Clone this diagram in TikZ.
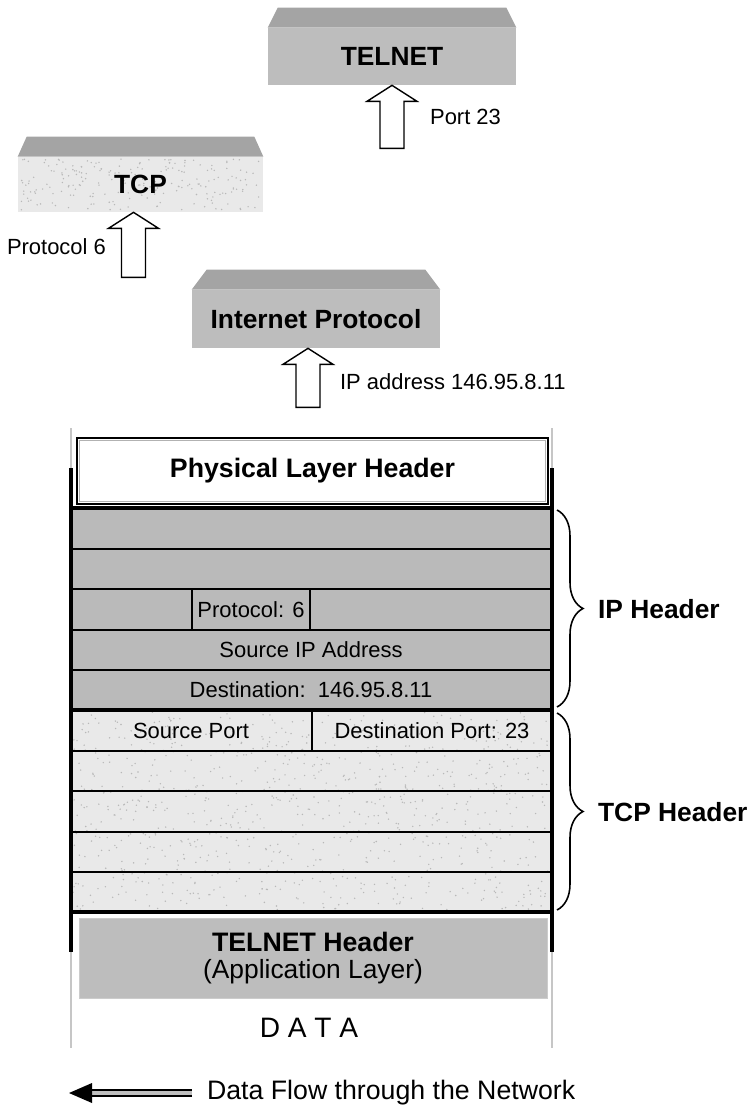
\documentclass[tikz,border=0pt]{standalone}
\usepackage{fontspec}
\setmainfont{Liberation Sans}
\usetikzlibrary{calc,decorations.pathreplacing}

\definecolor{slabgray}{HTML}{BDBDBD}
\definecolor{bevelgray}{HTML}{A4A4A4}
\definecolor{rowgray}{HTML}{BABABA}
\definecolor{speckbg}{HTML}{E9E9E9}
\definecolor{speckdot}{HTML}{B8B8B8}

% hollow block arrow pointing up: tip, shaft length
\newcommand\hollowup[2]{\draw[hollow] #1 -- ++(25,16) -- ++(-13,0) -- ++(0,#2) -- ++(-24,0) -- ++(0,-#2) -- ++(-13,0) -- cycle;}

\begin{document}
\begin{tikzpicture}[
  x=0.02cm, y=-0.02cm,
  boldlbl/.style={font=\fontsize{15}{17}\selectfont\bfseries, inner sep=1pt},
  plainlbl/.style={font=\fontsize{12.5}{15}\selectfont, inner sep=1pt},
  slab/.style={fill=slabgray, minimum width=4.96cm, minimum height=1.14cm, inner sep=0pt, font=\fontsize{15}{17}\selectfont\bfseries},
  bevel/.style={fill=bevelgray},
  hollow/.style={draw=black, fill=white, line width=0.8pt, line join=miter},
  physbox/.style={draw, line width=1.6pt, fill=white, minimum width=9.42cm, minimum height=1.32cm, font=\fontsize{15.2}{17}\selectfont\bfseries},
  apphdr/.style={fill=slabgray, draw=gray!40, minimum width=9.36cm, minimum height=1.6cm, align=center, font=\fontsize{15}{15.5}\selectfont},
  sideline/.style={line width=2.2pt},
  guide/.style={draw=gray!45, line width=0.6pt},
  rowline/.style={line width=0.9pt},
  splitline/.style={line width=1.8pt},
  hbrace/.style={decorate, decoration={brace, amplitude=0.52cm}, line width=0.9pt}
]
\useasboundingbox (0,0) rectangle (751,1111);

% protocol slabs
\node[slab] (telnet) at (392,56.5) {TELNET};
\fill[bevel] (telnet.north west) -- ++(10,-20) -- ($(telnet.north east)+(-10,-20)$) -- (telnet.north east) -- cycle;

\node[slab, fill=speckbg, minimum width=4.9cm, minimum height=1.1cm] (tcp) at (140.5,184.5) {};
\pgfmathsetseed{11}
\foreach \i in {1,...,220}
  \fill[speckdot] ({20+241*rnd},{159+51*rnd}) circle[radius=0.45pt];
\fill[bevel] (tcp.north west) -- ++(9,-20) -- ($(tcp.north east)+(-9,-20)$) -- (tcp.north east) -- cycle;
\node[boldlbl] (tcplbl) at (tcp.center) {TCP};

\node[slab, minimum height=1.16cm] (ip) at (316,319) {Internet Protocol};
\fill[bevel] (ip.north west) -- ++(15,-20) -- ($(ip.north east)+(-15,-20)$) -- (ip.north east) -- cycle;

% hollow arrows
\hollowup{(telnet.south)}{47}
\node[plainlbl, anchor=west] (portlbl) at (428,117) {Port 23};
\hollowup{($(tcp.south)+(-7,0)$)}{49}
\node[plainlbl, anchor=east] (protolbl) at (108,247) {Protocol 6};
\hollowup{($(ip.south)+(-8,0)$)}{43}
\node[plainlbl, anchor=west] (iplbl) at (338,382) {IP address 146.95.8.11};

% packet stack
\fill[rowgray] (71,508) rectangle (552,710);
\fill[speckbg] (71,710) rectangle (552,912);
\foreach \i in {1,...,900}
  \fill[speckdot] ({73+477*rnd},{712+198*rnd}) circle[radius=0.45pt];
\foreach \y in {549,589,630,670,751,791,832,872}
  \draw[rowline] (71,\y) -- (552,\y);
\foreach \y in {508,710,912}
  \draw[splitline] (71,\y) -- (552,\y);
\draw[rowline] (192,589) -- (192,630);
\draw[rowline] (310,589) -- (310,630);
\draw[rowline] (312,710) -- (312,751);

\draw[guide] (71,428) -- (71,468);
\draw[guide] (552,428) -- (552,468);
\draw[guide] (71,952) -- (71,1048);
\draw[guide] (552,952) -- (552,1048);
\draw[sideline] (71,468) -- (71,952);
\draw[sideline] (552,468) -- (552,952);

\node[physbox] (phys) at (312.5,471) {Physical Layer Header};
\draw[gray!60, line width=0.5pt] ($(phys.north west)+(4,4)$) rectangle ($(phys.south east)+(-4,-4)$);

\node[plainlbl] (protofield) at (251,610) {Protocol: 6};
\node[plainlbl] (srcip) at (311,650) {Source IP Address};
\node[plainlbl] (dstip) at (311,690) {Destination:\ \ 146.95.8.11};
\node[plainlbl] (srcport) at (191,731) {Source Port};
\node[plainlbl] (dstport) at (432,731) {Destination Port: 23};

% braces
\draw[hbrace] (557,510) -- (557,707);
\node[boldlbl, anchor=west] (iphdr) at (596,609) {IP Header};
\draw[hbrace] (557,713) -- (557,910);
\node[boldlbl, anchor=west] (tcphdr) at (596,812) {TCP Header};

\node[apphdr] (app) at (313,958) {{\fontsize{15.2}{15.5}\selectfont\bfseries TELNET Header}\\(Application Layer)};
\node[font=\fontsize{16}{18}\selectfont] (data) at (309,1028) {D A T A};

% data flow
\node[font=\fontsize{15.2}{17}\selectfont, anchor=west, inner sep=1pt] (flowlbl) at (205,1093) {Data Flow through the Network};
\coordinate (flowtip) at (69,1093);
\draw[line width=0.9pt, double=gray!50, double distance=2.4pt] ($(flowlbl.west)+(-13,0)$) -- ($(flowtip)+(22,0)$);
\fill (flowtip) -- ++(23,-10) -- ++(0,20) -- cycle;
\end{tikzpicture}
\end{document}
